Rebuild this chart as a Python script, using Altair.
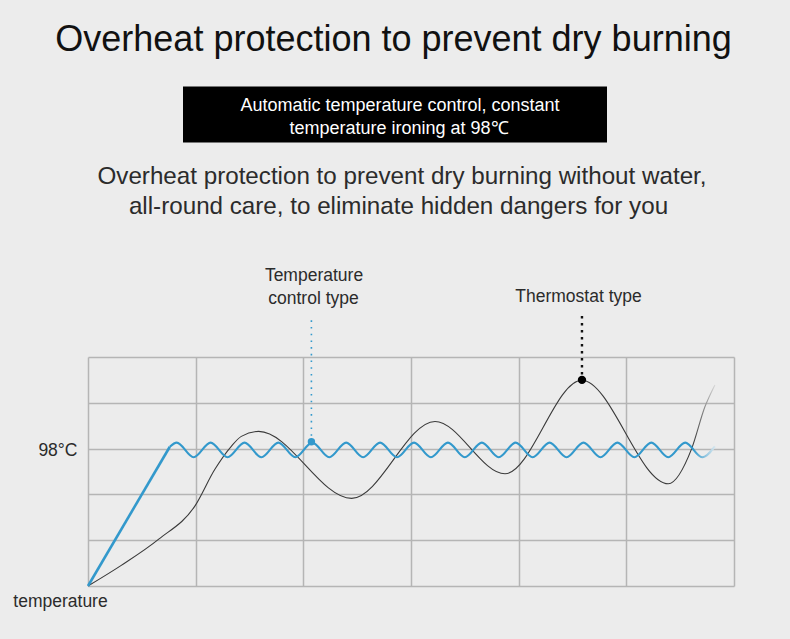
import altair as alt
import pandas as pd
import jinja2

# ---------------- data ----------------
# x: grid columns (0..6), y: grid rows (0..5); 98°C sits on row 3
blue_ramp_x = [0.0, 0.76]
blue_ramp_y = [0.0, 3.04]

blue_wave_x = [0.76, 0.824, 0.981, 1.139, 1.296, 1.454, 1.611, 1.768, 1.926, 2.083,
               2.241, 2.398, 2.555, 2.713, 2.870, 3.028, 3.185, 3.343, 3.500, 3.658,
               3.815, 3.972, 4.130, 4.287, 4.445, 4.602, 4.760, 4.917, 5.075, 5.232,
               5.389, 5.547, 5.704, 5.823]
blue_wave_y = [3.04, 3.13, 2.81, 3.13, 2.81, 3.13, 2.81, 3.13, 2.81, 3.13,
               2.81, 3.13, 2.81, 3.13, 2.81, 3.13, 2.81, 3.13, 2.81, 3.13,
               2.81, 3.13, 2.81, 3.13, 2.81, 3.13, 2.81, 3.13, 2.81, 3.13,
               2.81, 3.13, 2.81, 3.05]

black_x = [0.0, 0.309, 0.657, 0.997, 1.177, 1.331, 1.424, 1.585, 2.449,
           3.223, 3.873, 4.585, 5.390, 5.607, 5.730, 5.823]
black_y = [0.0, 0.450, 1.022, 1.761, 2.543, 3.050, 3.267, 3.376, 1.913,
           3.593, 2.450, 4.493, 2.233, 3.000, 3.913, 4.391]

marker_x = [2.075, 4.588]
marker_y = [3.15, 4.50]
marker_rule_low = [3.28, 4.62]
marker_rule_high = [5.80, 5.93]
marker_kind = ["Temperature control type", "Thermostat type"]

grid_x = [0, 1, 2, 3, 4, 5, 6]
grid_y = [0, 1, 2, 3, 4, 5]

title_text = "Overheat protection to prevent dry burning"
box_lines = ["Automatic temperature control, constant", "temperature ironing at 98℃"]
sub_lines = ["Overheat protection to prevent dry burning without water,",
             "all-round care, to eliminate hidden dangers for you"]
anno_blue = ["Temperature", "control type"]
anno_black = "Thermostat type"
y_label = "98°C"
x_label = "temperature"

# ---------------- styling ----------------
FONT = "Liberation Sans"
BLUE = "#3399cc"
BLACK_LINE = "#3a3a3a"
BG = "#ececec"
GRID = "#b5b5b5"

W, H = 646, 229

xs = alt.Scale(domain=[0, 6], nice=False, zero=False)
ys = alt.Scale(domain=[0, 5], nice=False, zero=False)

x_axis = alt.Axis(values=grid_x, grid=True, labels=False, ticks=False, domain=False,
                  title=None, gridColor=GRID, gridWidth=1.5, gridOpacity=1)
y_axis = alt.Axis(values=grid_y, grid=True, labels=False, ticks=False, domain=False,
                  title=None, gridColor=GRID, gridWidth=1.5, gridOpacity=1)

ramp_df = pd.DataFrame({"x": blue_ramp_x, "y": blue_ramp_y})
wave_df = pd.DataFrame({"x": blue_wave_x, "y": blue_wave_y})
black_df = pd.DataFrame({"x": black_x, "y": black_y})
mk_df = pd.DataFrame({"x": marker_x, "y": marker_y, "lo": marker_rule_low,
                      "hi": marker_rule_high, "kind": marker_kind})

blue_grad = alt.Gradient(gradient="linear", x1=0, x2=1, y1=0, y2=0,
                         stops=[alt.GradientStop(offset=0, color=BLUE),
                                alt.GradientStop(offset=0.96, color=BLUE),
                                alt.GradientStop(offset=1, color="#d6e6ee")])
black_grad = alt.Gradient(gradient="linear", x1=0, x2=1, y1=0, y2=0,
                          stops=[alt.GradientStop(offset=0, color=BLACK_LINE),
                                 alt.GradientStop(offset=0.965, color=BLACK_LINE),
                                 alt.GradientStop(offset=1, color="#d8d8d8")])

black_line = alt.Chart(black_df).mark_line(
    interpolate="monotone", strokeWidth=1.1, color=black_grad
).encode(x=alt.X("x:Q", scale=xs, axis=x_axis), y=alt.Y("y:Q", scale=ys, axis=y_axis),
         order="x:Q")

ramp_line = alt.Chart(ramp_df).mark_line(strokeWidth=2.6, color=BLUE).encode(
    x=alt.X("x:Q", scale=xs), y=alt.Y("y:Q", scale=ys))

wave_line = alt.Chart(wave_df).mark_line(
    interpolate="monotone", strokeWidth=2.1, color=blue_grad
).encode(x=alt.X("x:Q", scale=xs), y=alt.Y("y:Q", scale=ys), order="x:Q")

blue_rule = alt.Chart(mk_df).transform_filter(alt.datum.kind == marker_kind[0]).mark_rule(
    color=BLUE, strokeWidth=1.6, strokeDash=[1.6, 5.1]
).encode(x=alt.X("x:Q", scale=xs), y=alt.Y("lo:Q", scale=ys), y2="hi:Q")
black_rule = alt.Chart(mk_df).transform_filter(alt.datum.kind == marker_kind[1]).mark_rule(
    color="#111111", strokeWidth=2.4, strokeDash=[2.4, 4.6]
).encode(x=alt.X("x:Q", scale=xs), y=alt.Y("lo:Q", scale=ys), y2="hi:Q")

blue_dot = alt.Chart(mk_df).transform_filter(alt.datum.kind == marker_kind[0]).mark_point(
    filled=True, size=55, color=BLUE, opacity=1
).encode(x=alt.X("x:Q", scale=xs), y=alt.Y("y:Q", scale=ys))
black_dot = alt.Chart(mk_df).transform_filter(alt.datum.kind == marker_kind[1]).mark_point(
    filled=True, size=70, color="#000000", opacity=1
).encode(x=alt.X("x:Q", scale=xs), y=alt.Y("y:Q", scale=ys))


def label(text, x, y, size, color, align="center"):
    return alt.Chart(pd.DataFrame({"t": [text]})).mark_text(
        align=align, baseline="alphabetic", fontSize=size, color=color, font=FONT
    ).encode(text="t:N", x=alt.value(x), y=alt.value(y))


box = alt.Chart(pd.DataFrame({"a": [0]})).mark_rect(color="#000000").encode(
    x=alt.value(95), x2=alt.value(519), y=alt.value(-270.5), y2=alt.value(-214.5))

texts = [
    label(title_text, 305.5, -306, 36, "#111111"),
    box,
    label(box_lines[0], 312, -246.5, 18, "#ffffff"),
    label(box_lines[1], 311, -223, 18, "#ffffff"),
    label(sub_lines[0], 314, -173, 24.2, "#2b2b2b"),
    label(sub_lines[1], 310.5, -143, 24.2, "#2b2b2b"),
    label(anno_blue[0], 226, -76, 17.5, "#2b2b2b"),
    label(anno_blue[1], 225.5, -53, 17.5, "#2b2b2b"),
    label(anno_black, 490.5, -55.5, 17.5, "#2b2b2b"),
    label(y_label, -10.5, 99, 17.5, "#2b2b2b", align="right"),
    label(x_label, -27.5, 250, 17.5, "#2b2b2b"),
]

chart = alt.layer(
    black_line, ramp_line, wave_line, blue_rule, black_rule, blue_dot, black_dot, *texts
).properties(
    width=W, height=H,
    autosize=alt.AutoSizeParams(type="none"),
    padding={"left": 80, "top": 349, "right": 48, "bottom": 44},
    background=BG,
).configure_view(stroke=None).configure_text(font=FONT)

# page template: same CDN scripts as the standard one, plus a page background
PAGE = jinja2.Template("""<!DOCTYPE html>
<html>
<head>
  <style>
    body { background: #ececec; }
    #{{ output_div }}.vega-embed { width: 100%; display: flex; }
  </style>
  <script type="text/javascript" src="{{ base_url }}/vega@{{ vega_version }}"></script>
  <script type="text/javascript" src="{{ base_url }}/vega-lite@{{ vegalite_version }}"></script>
  <script type="text/javascript" src="{{ base_url }}/vega-embed@{{ vegaembed_version }}"></script>
</head>
<body>
  <div id="{{ output_div }}"></div>
  <script type="text/javascript">
    (function(vegaEmbed) {
      var spec = {{ spec }};
      var embedOpt = {{ embed_options }};
      vegaEmbed("#{{ output_div }}", spec, embedOpt).catch(function(err) { console.error(err); });
    })(vegaEmbed);
  </script>
</body>
</html>
""")

chart.save("out.html", embed_options={"renderer": "svg", "actions": False}, template=PAGE)
